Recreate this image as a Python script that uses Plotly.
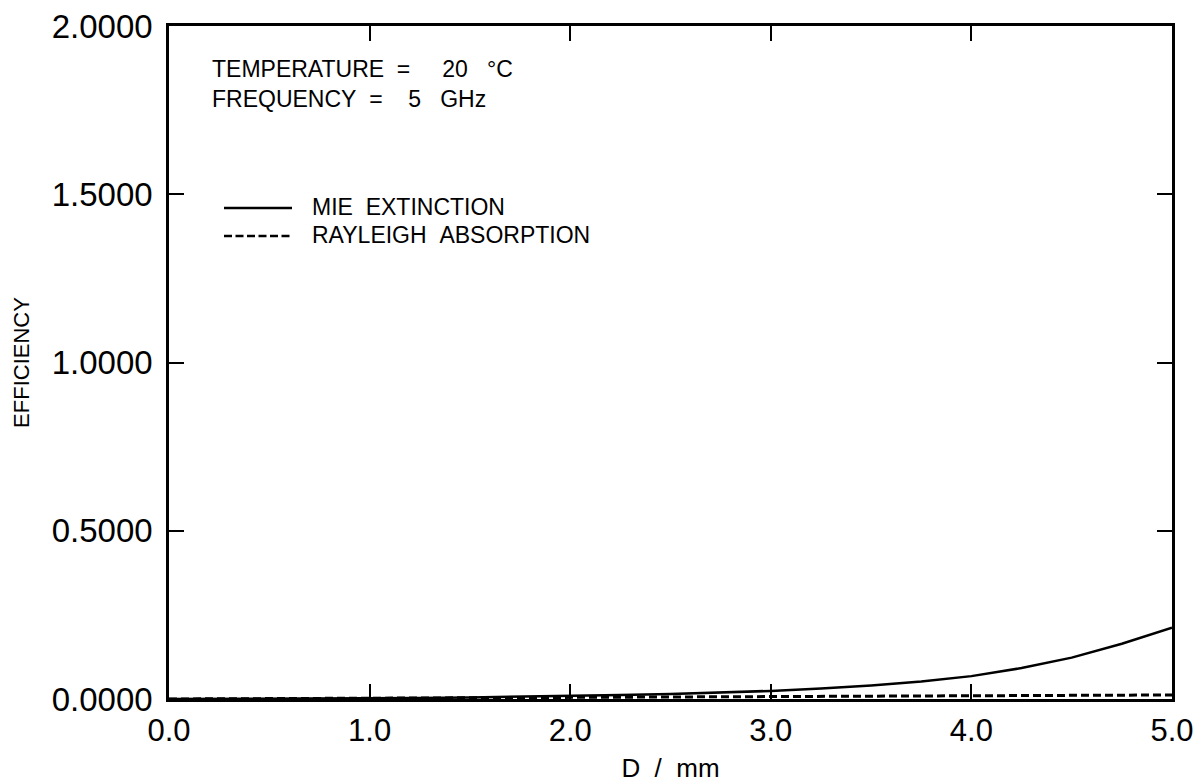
import plotly.graph_objects as go

# Drop diameter D (mm)
diameter_mm = [0.0, 0.25, 0.5, 0.75, 1.0, 1.25, 1.5, 1.75, 2.0, 2.25, 2.5,
               2.75, 3.0, 3.25, 3.5, 3.75, 4.0, 4.25, 4.5, 4.75, 5.0]
# Mie extinction efficiency
mie_extinction = [0.0, 0.0002, 0.0006, 0.0012, 0.002, 0.003, 0.0045, 0.0065,
                  0.009, 0.012, 0.015, 0.019, 0.024, 0.031, 0.040, 0.052,
                  0.068, 0.092, 0.123, 0.164, 0.212]
# Rayleigh absorption efficiency
rayleigh_absorption = [0.0, 0.0006, 0.0012, 0.0018, 0.0024, 0.003, 0.0036, 0.0042,
                       0.0048, 0.0054, 0.006, 0.0066, 0.0072, 0.0078, 0.0084, 0.009,
                       0.0096, 0.0102, 0.0108, 0.0114, 0.012]

x_ticks = [0, 1, 2, 3, 4, 5]
y_ticks = [0, 0.5, 1.0, 1.5, 2.0]

FONT = "Liberation Sans, Arial, Helvetica, sans-serif"
NB = "\u00a0"

fig = go.Figure()
fig.add_trace(go.Scatter(x=diameter_mm, y=mie_extinction, mode="lines",
                         name="MIE EXTINCTION", showlegend=False,
                         line=dict(color="black", width=2.5)))
fig.add_trace(go.Scatter(x=diameter_mm, y=rayleigh_absorption, mode="lines",
                         name="RAYLEIGH ABSORPTION", showlegend=False,
                         line=dict(color="black", width=3, dash="8px,4px")))

W, H = 1195, 783
L, R, T, B = 169, 23, 26, 84
pw, ph = W - L - R, H - T - B


def px(xp):
    return (xp - L) / pw


def py(yp):
    return (H - B - yp) / ph


ann_font = dict(family=FONT, size=23, color="black")
conditions = (f"TEMPERATURE{NB}{NB}={NB}{NB}{NB}{NB}{NB}20{NB}{NB}{NB}°C<br>"
              f"FREQUENCY{NB}{NB}={NB}{NB}{NB}{NB}5{NB}{NB}{NB}GHz")
annotations = [
    dict(text=conditions, x=px(210), y=py(84), align="left",
         xref="paper", yref="paper", xanchor="left", yanchor="middle",
         showarrow=False, font=ann_font),
    dict(text=f"MIE{NB}{NB}EXTINCTION", x=px(310), y=py(207),
         xref="paper", yref="paper", xanchor="left", yanchor="middle",
         showarrow=False, font=ann_font),
    dict(text=f"RAYLEIGH{NB}{NB}ABSORPTION", x=px(310), y=py(235),
         xref="paper", yref="paper", xanchor="left", yanchor="middle",
         showarrow=False, font=ann_font),
]
shapes = [
    dict(type="line", xref="paper", yref="paper", x0=px(224), x1=px(292),
         y0=py(208), y1=py(208), line=dict(color="black", width=2.5)),
    dict(type="line", xref="paper", yref="paper", x0=px(224), x1=px(292),
         y0=py(236), y1=py(236), line=dict(color="black", width=2.5, dash="8px,3.5px")),
]

fig.update_layout(
    width=W, height=H,
    margin=dict(l=L, r=R, t=T, b=B, autoexpand=False),
    paper_bgcolor="white", plot_bgcolor="white",
    font=dict(family=FONT, color="black"),
    annotations=annotations, shapes=shapes,
    xaxis=dict(range=[0, 5], tickvals=x_ticks, tickformat=".1f",
               ticks="inside", ticklen=15, tickwidth=2, tickcolor="black",
               showline=True, linecolor="black", linewidth=2.5, mirror="ticks",
               showgrid=False, zeroline=False,
               tickfont=dict(family=FONT, size=31, color="black"),
               ticklabelstandoff=2, ticklabeloverflow="allow",
               title=dict(text=f"D{NB}{NB}/{NB}{NB}mm", standoff=12,
                          font=dict(family=FONT, size=26, color="black"))),
    yaxis=dict(range=[0, 2], tickvals=y_ticks, tickformat=".4f",
               ticks="inside", ticklen=15, tickwidth=2, tickcolor="black",
               showline=True, linecolor="black", linewidth=2.5, mirror="ticks",
               showgrid=False, zeroline=False,
               tickfont=dict(family=FONT, size=33, color="black"),
               ticklabelstandoff=7, ticklabeloverflow="allow",
               title=dict(text="EFFICIENCY", standoff=17,
                          font=dict(family=FONT, size=22, color="black"))),
)

fig.write_html("out.html",
               config={"displayModeBar": False},
               post_script="document.body.style.margin='0';"
                           "document.body.style.overflow='hidden';")
